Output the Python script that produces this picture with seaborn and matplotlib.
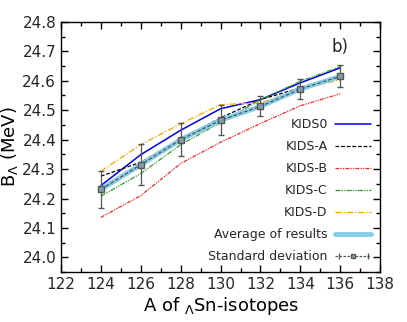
import numpy as np
import pandas as pd
import matplotlib
matplotlib.use("Agg")
import matplotlib.pyplot as plt
import matplotlib.ticker as mticker
import seaborn as sns
from matplotlib.lines import Line2D
from matplotlib.legend_handler import HandlerLine2D, HandlerTuple

## data
A = [124, 126, 128, 130, 132, 134, 136]
kids0 = [24.244, 24.349, 24.432, 24.505, 24.536, 24.593, 24.644]
kids_a = [24.276, 24.323, 24.403, 24.474, 24.536, 24.576, 24.617]
kids_b = [24.136, 24.210, 24.319, 24.391, 24.455, 24.515, 24.556]
kids_c = [24.208, 24.285, 24.383, 24.458, 24.536, 24.598, 24.648]
kids_d = [24.293, 24.383, 24.454, 24.519, 24.525, 24.572, 24.603]
average = [24.231, 24.315, 24.400, 24.466, 24.513, 24.572, 24.615]
std_dev = [0.062, 0.070, 0.056, 0.051, 0.034, 0.033, 0.037]

sns.set_style("ticks")
plt.rcParams['font.family'] = ['DejaVu Sans']

fig = plt.figure(figsize=(4.07, 3.22), dpi=100)
ax = fig.add_axes([0.150, 0.155, 0.784, 0.777])

styles = [
    ("KIDS0", kids0, "#0000ee", "-", 1.1),
    ("KIDS-A", kids_a, "black", (0, (3, 1.5)), 0.9),
    ("KIDS-B", kids_b, "#ff2020", (0, (3, 1, 1, 1, 1, 1)), 0.9),
    ("KIDS-C", kids_c, "#2e9a2e", (0, (4, 1, 1, 1, 1, 1)), 0.9),
    ("KIDS-D", kids_d, "orange", (0, (5, 1.5, 1, 1.5)), 0.9),
]
for name, vals, col, ls, lw in styles:
    df = pd.DataFrame({"A": A, "B": vals})
    sns.lineplot(data=df, x="A", y="B", ax=ax, color=col, linestyle=ls, linewidth=lw, label=name)

df = pd.DataFrame({"A": A, "B": average})
sns.lineplot(data=df, x="A", y="B", ax=ax, color="skyblue", linewidth=3.5, label="Average of results")
ax.errorbar(A, average, yerr=std_dev, color="#555555", linestyle=(0, (3, 1.5)), linewidth=0.9,
            marker="s", markersize=4.5, markerfacecolor="#7f9fac", markeredgecolor="#555555",
            capsize=2, elinewidth=0.9)

ax.text(136, 24.715, "b)", fontsize=12, ha="center", va="center")

ax.set_xlim(122, 138)
ax.set_ylim(23.95, 24.8)
ax.set_xticks(np.arange(122, 139, 2))
ax.set_xticks(np.arange(122, 139, 1), minor=True)
ax.set_yticks(np.arange(24.0, 24.81, 0.1))
ax.set_yticks(np.arange(23.95, 24.81, 0.05), minor=True)
ax.yaxis.set_major_formatter(mticker.FormatStrFormatter("%.1f"))
for s in ax.spines.values():
    s.set_linewidth(1.0)
    s.set_color("black")

ax.set_xlabel(r"A of $_\Lambda$Sn-isotopes", fontsize=13, labelpad=2, color="black")
ax.set_ylabel(r"B$_\Lambda$ (MeV)", fontsize=13, labelpad=2, color="black")

# legend entry for std: dashed line, square in middle, caps at the ends
std_line = Line2D([], [], color="#555555", linestyle=(0, (2, 1.2)), linewidth=0.9,
                  marker="s", markersize=3.5, markerfacecolor="#7f9fac", markeredgecolor="#555555")
std_caps = Line2D([], [], color="#555555", linestyle="none", marker="|", markersize=5)
handles, labels = ax.get_legend_handles_labels()
handles.append((std_line, std_caps))
labels.append("Standard deviation")
ax.legend(handles, labels, loc="lower right", frameon=False, markerfirst=False, fontsize=9,
          labelspacing=0.72, handlelength=2.9, borderaxespad=0.3, handletextpad=0.6,
          handler_map={std_caps: HandlerLine2D(numpoints=2), tuple: HandlerTuple(ndivide=1, pad=0)})

# ticks last, inward on all four sides
ax.tick_params(which="both", direction="in", top=True, right=True, labelsize=11,
               color="black", width=1)
ax.tick_params(which="major", length=5)
ax.tick_params(which="minor", length=3)

fig.savefig("out.png", dpi=100)
